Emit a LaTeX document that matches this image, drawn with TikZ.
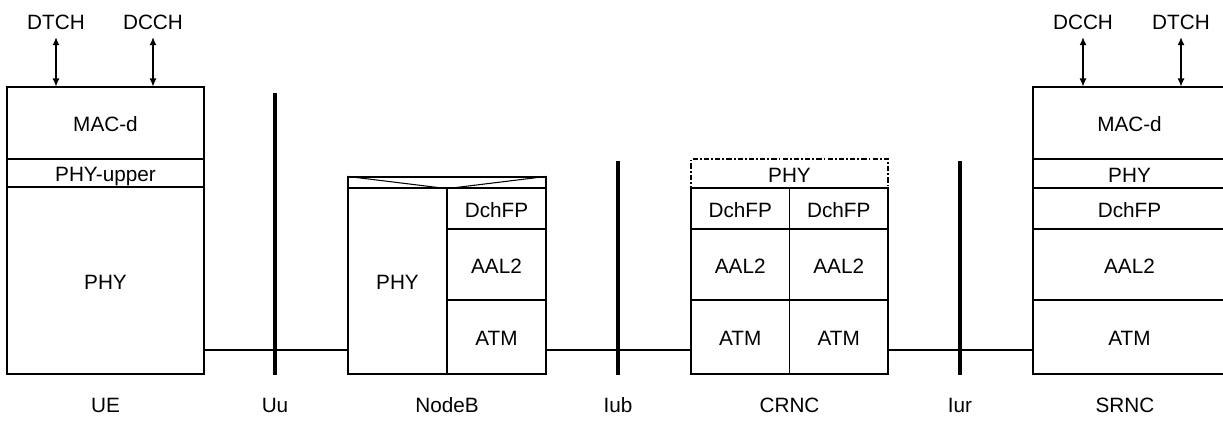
\documentclass[tikz,border=0pt]{standalone}
\usepackage{fontspec}
\setmainfont{Liberation Sans}
\usetikzlibrary{arrows.meta}
\tikzset{
        layer/.style={shape=rectangle,draw=black,line width=0.7pt,inner sep=0pt,minimum width=1.98cm,text height=1em,text depth=0pt},
        bar/.style={line width=2.8pt},
        link/.style={line width=0.6pt},
        dashdot/.style={line width=0.9pt,dash pattern=on 3pt off 1.2pt on 1pt off 1.2pt}
}
\begin{document}
\begin{tikzpicture}[x=0.02cm,y=-0.02cm,font=\fontsize{11.8}{14}\selectfont,>={Latex[length=4.5pt,width=4pt]}]
        \useasboundingbox (0,0) rectangle (1223,441);
        % UE
        \node[layer,minimum width=3.94cm,minimum height=1.44cm] (ue-mac) at (105.5,123) {MAC-d};
        \node[layer,minimum width=3.94cm,minimum height=0.56cm] (ue-phyup) at (105.5,173) {PHY-upper};
        \node[layer,minimum width=3.94cm,minimum height=3.74cm] (ue-phy) at (105.5,280.5) {PHY};
        \node (ue-dtch) at (56,22) {DTCH};
        \node (ue-dcch) at (153,22) {DCCH};
        \path [<->] (ue-dtch) edge[link,shorten <=1pt] (ue-dtch |- ue-mac.north);
        \path [<->] (ue-dcch) edge[link,shorten <=1pt] (ue-dcch |- ue-mac.north);
        % NodeB
        \node[layer,text height=0pt,minimum width=3.96cm,minimum height=0.22cm] (nb-top) at (447,182.5) {};
        \draw[link] (nb-top.north west) -- (nb-top.south) -- (nb-top.north east);
        \node[layer,minimum height=3.72cm] (nb-phy) at (397.5,281) {PHY};
        \node[layer,minimum height=0.82cm] (nb-dch) at (496.5,208.5) {DchFP};
        \node[layer,minimum height=1.42cm] (nb-aal) at (496.5,264.5) {AAL2};
        \node[layer,minimum height=1.48cm] (nb-atm) at (496.5,337) {ATM};
        % CRNC
        \node[layer,dashdot,minimum width=3.94cm,minimum height=0.58cm] (cr-phy) at (789.5,173.5) {PHY};
        \node[layer,minimum width=1.97cm,minimum height=0.82cm] (cr-dch1) at (740.25,208.5) {DchFP};
        \node[layer,minimum width=1.97cm,minimum height=0.82cm] (cr-dch2) at (838.75,208.5) {DchFP};
        \node[layer,minimum width=1.97cm,minimum height=1.42cm] (cr-aal1) at (740.25,264.5) {AAL2};
        \node[layer,minimum width=1.97cm,minimum height=1.42cm] (cr-aal2) at (838.75,264.5) {AAL2};
        \node[layer,minimum width=1.97cm,minimum height=1.48cm] (cr-atm1) at (740.25,337) {ATM};
        \node[layer,minimum width=1.97cm,minimum height=1.48cm] (cr-atm2) at (838.75,337) {ATM};
        % SRNC
        \node[layer,minimum width=3.86cm,minimum height=1.44cm] (sr-mac) at (1129.5,123) {MAC-d};
        \node[layer,minimum width=3.86cm,minimum height=0.58cm] (sr-phy) at (1129.5,173.5) {PHY};
        \node[layer,minimum width=3.86cm,minimum height=0.82cm] (sr-dch) at (1129.5,208.5) {DchFP};
        \node[layer,minimum width=3.86cm,minimum height=1.42cm] (sr-aal) at (1129.5,264.5) {AAL2};
        \node[layer,minimum width=3.86cm,minimum height=1.48cm] (sr-atm) at (1129.5,337) {ATM};
        \node (sr-dcch) at (1083,22) {DCCH};
        \node (sr-dtch) at (1181,22) {DTCH};
        \path [<->] (sr-dcch) edge[link,shorten <=1pt] (sr-dcch |- sr-mac.north);
        \path [<->] (sr-dtch) edge[link,shorten <=1pt] (sr-dtch |- sr-mac.north);
        % interfaces
        \coordinate (uu-top) at (275,93);
        \coordinate (iub-top) at (618,161);
        \coordinate (iur-top) at (960,161);
        \draw[bar] (uu-top) -- (uu-top |- ue-phy.south);
        \draw[bar] (iub-top) -- (iub-top |- ue-phy.south);
        \draw[bar] (iur-top) -- (iur-top |- ue-phy.south);
        \coordinate (link-y) at (0,350);
        \draw[link] (ue-phy.east |- link-y) -- (nb-phy.west |- link-y);
        \draw[link] (nb-atm.east |- link-y) -- (cr-atm1.west |- link-y);
        \draw[link] (cr-atm2.east |- link-y) -- (sr-atm.west |- link-y);
        % names
        \node (ue-name) at (105.5,405) {UE};
        \node (uu-name) at (275,405) {Uu};
        \node (nb-name) at (447,405) {NodeB};
        \node (iub-name) at (618,405) {Iub};
        \node (cr-name) at (789.5,405) {CRNC};
        \node (iur-name) at (960,405) {Iur};
        \node (sr-name) at (1125,405) {SRNC};
\end{tikzpicture}
\end{document}
